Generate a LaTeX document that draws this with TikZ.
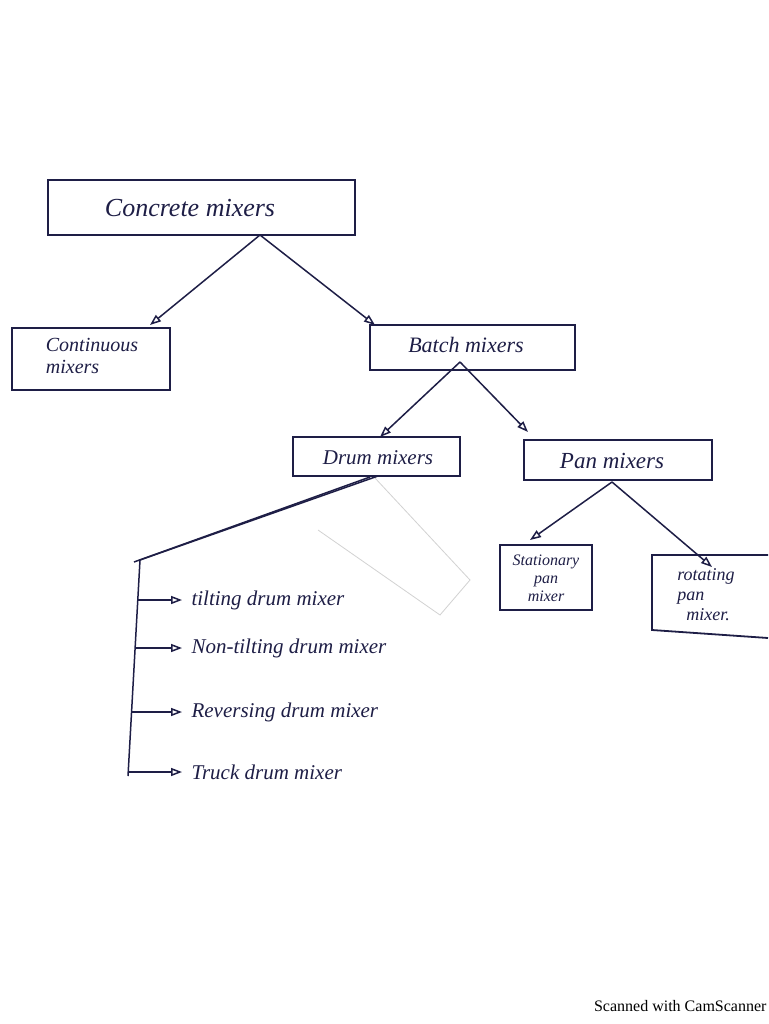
\documentclass[tikz,border=0pt]{standalone}
\usepackage{fontspec}
\setmainfont{Liberation Serif}
\usetikzlibrary{arrows.meta}
\definecolor{ink}{RGB}{30,30,70}
\begin{document}
\begin{tikzpicture}[x=1pt,y=-1pt,
  box/.style={draw=ink,line width=1.8pt,inner sep=0pt},
  txt/.style={text=ink,font=\itshape},
  arr/.style={draw=ink,line width=1.5pt,-{Triangle[open,length=11pt,width=8pt]}},
  ln/.style={draw=ink,line width=1.5pt}]
\useasboundingbox (0,0) rectangle (768,1024);
\fill[white] (0,0) rectangle (768,1024);
% boxes
\draw[box] (48,180) rectangle (355,235);
\node[txt,font=\itshape\fontsize{26}{28}\selectfont] (cm) at (190,208) {Concrete mixers};
\draw[box] (12,328) rectangle (170,390);
\node[txt,align=left,font=\itshape\fontsize{20}{22}\selectfont] (cont) at (92,356) {Continuous\\ mixers};
\draw[box] (370,325) rectangle (575,370);
\node[txt,font=\itshape\fontsize{22}{24}\selectfont] (batch) at (466,345) {Batch mixers};
\draw[box] (293,437) rectangle (460,476);
\node[txt,font=\itshape\fontsize{21}{24}\selectfont] (drum) at (378,458) {Drum mixers};
\draw[box] (524,440) rectangle (712,480);
\node[txt,font=\itshape\fontsize{23}{24}\selectfont] (pan) at (612,461) {Pan mixers};
\draw[box] (500,545) rectangle (592,610);
\node[txt,align=center,font=\itshape\fontsize{16}{18}\selectfont] (stat) at (546,578) {Stationary\\ pan\\ mixer};
\draw[box] (768,555) -- (652,555) -- (652,630) -- (768,638);
\node[txt,align=left,font=\itshape\fontsize{18}{20}\selectfont] (rot) at (706,595) {rotating\\ pan\\ \ \ mixer.};
% faint smudge rectangle
\draw[gray!35,line width=0.8pt] (375,478) -- (470,580) -- (440,615) -- (318,530);
% tree connectors
\coordinate (cmb) at (260,235);
\coordinate (contt) at (150,325);
\coordinate (batt) at (375,325);
\draw[arr] (cmb) -- (contt);
\draw[arr] (cmb) -- (batt);
\coordinate (bb) at (460,362);
\draw[arr] (bb) -- (380,437);
\draw[arr] (bb) -- (528,432);
\coordinate (pb) at (612,482);
\draw[arr] (pb) -- (530,540);
\draw[arr] (pb) -- (712,567);
% drum branch
\coordinate (db) at (378,476);
\coordinate (k1) at (140,560);
\coordinate (k2) at (128,776);
\draw[ln] (db) -- (k1) -- (k2);
\draw[ln] (370,477) -- (134,562);
\foreach \y/\t in {600/tilting drum mixer,648/Non-tilting drum mixer,712/Reversing drum mixer,772/Truck drum mixer}{
  \pgfmathsetmacro{\xs}{140-12*(\y-560)/216}
  \coordinate (s\y) at (\xs,\y);
  \coordinate (e\y) at (182,\y);
  \draw[arr] (s\y) -- (e\y);
  \node[txt,anchor=west,font=\itshape\fontsize{21}{24}\selectfont] at (188,\y) {\t};
}
\node[anchor=east,font=\fontsize{16}{18}\selectfont] at (770,1006) {Scanned with CamScanner};
\end{tikzpicture}
\end{document}
